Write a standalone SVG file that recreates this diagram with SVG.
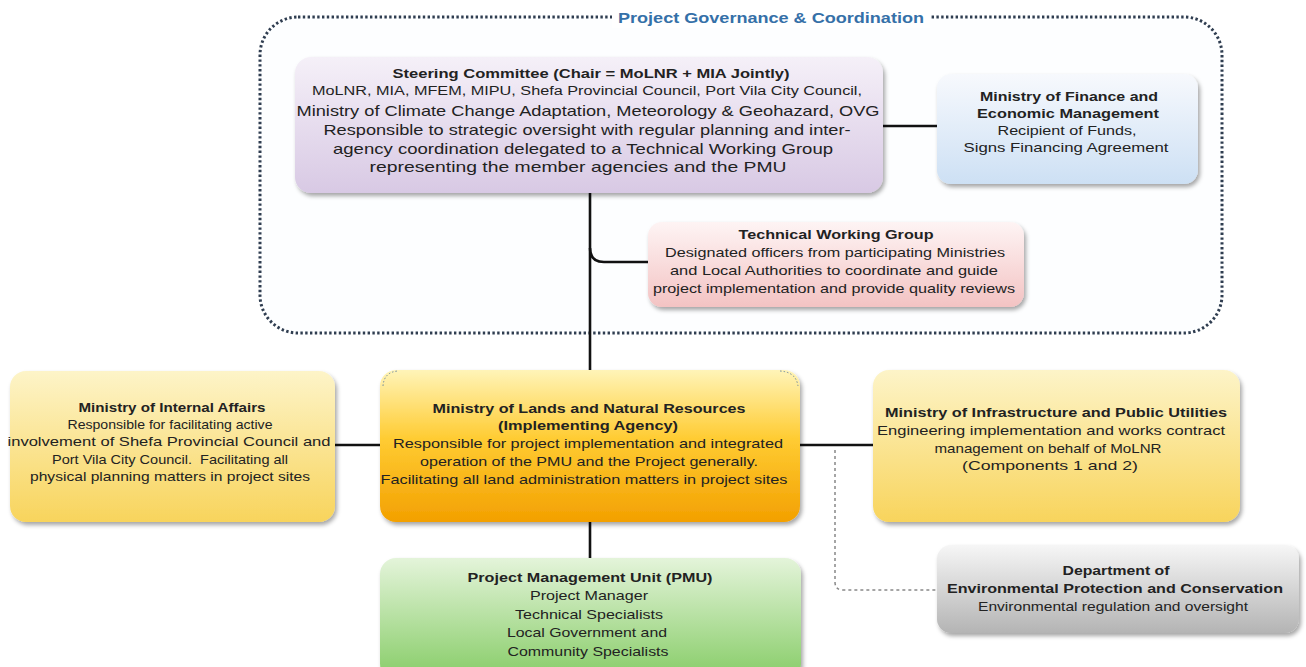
<svg xmlns="http://www.w3.org/2000/svg" width="1306" height="667" viewBox="0 0 1306 667">
<defs>
<style>
text{font-family:"Liberation Sans",Arial,sans-serif;fill:#222;text-anchor:middle;font-size:13px}
.b{font-weight:bold}
.c{stroke:#111;stroke-width:2.6;fill:none}
.box{filter:url(#sh)}
</style>
<filter id="sh" x="-10%" y="-10%" width="125%" height="130%">
<feDropShadow dx="2" dy="3" stdDeviation="2" flood-color="#000" flood-opacity="0.35"/>
</filter>
<linearGradient id="gP" x1="0" y1="0" x2="0" y2="1"><stop offset="0" stop-color="#f5f0f8"/><stop offset="1" stop-color="#d8c9e4"/></linearGradient>
<linearGradient id="gB" x1="0" y1="0" x2="0" y2="1"><stop offset="0" stop-color="#f7f9fd"/><stop offset="1" stop-color="#cde0f4"/></linearGradient>
<linearGradient id="gR" x1="0" y1="0" x2="0" y2="1"><stop offset="0" stop-color="#fef4f4"/><stop offset="1" stop-color="#f3c3c3"/></linearGradient>
<linearGradient id="gY" x1="0" y1="0" x2="0" y2="1"><stop offset="0" stop-color="#fdf4c8"/><stop offset="1" stop-color="#f8d45c"/></linearGradient>
<linearGradient id="gO" x1="0" y1="0" x2="0" y2="1"><stop offset="0" stop-color="#fff4b8"/><stop offset="0.45" stop-color="#ffcc33"/><stop offset="1" stop-color="#f3a000"/></linearGradient>
<linearGradient id="gG" x1="0" y1="0" x2="0" y2="1"><stop offset="0" stop-color="#e4f4da"/><stop offset="1" stop-color="#86cc66"/></linearGradient>
<linearGradient id="gS" x1="0" y1="0" x2="0" y2="1"><stop offset="0" stop-color="#f6f6f6"/><stop offset="1" stop-color="#b4b4b4"/></linearGradient>
</defs>
<rect width="1306" height="667" fill="#fff"/>

<g id="governance-container">
<rect x="260" y="17" width="962" height="316" rx="38" fill="#fdfeff" stroke="#2f3d50" stroke-width="3" stroke-dasharray="2.4 2.4"/>
<rect x="612" y="8" width="318" height="20" fill="#fff"/>
<text x="771" y="23" class="b" style="fill:#3570a8;font-size:14px" textLength="306" lengthAdjust="spacingAndGlyphs">Project Governance &amp; Coordination</text>
</g>

<g id="connectors">
<line class="c" x1="883" y1="126" x2="937" y2="126"/>
<line class="c" x1="590" y1="193" x2="590" y2="370"/>
<path class="c" d="M590,248 Q590,262 604,262 L648,262"/>
<line class="c" x1="335" y1="445" x2="380" y2="445"/>
<line class="c" x1="800" y1="445" x2="873" y2="445"/>
<line class="c" x1="590" y1="522" x2="590" y2="558"/>
<path d="M835,450 L835,582 Q835,590 843,590 L937,590" fill="none" stroke="#888" stroke-width="1.5" stroke-dasharray="3 3"/>
</g>

<g id="steering-committee">
<rect class="box" x="295" y="57" width="588" height="136" rx="16" fill="url(#gP)"/>
<text x="591" y="78" class="b" textLength="397" lengthAdjust="spacingAndGlyphs">Steering Committee (Chair = MoLNR + MIA Jointly)</text>
<text x="587" y="95" style="font-size:12.5px" textLength="550" lengthAdjust="spacingAndGlyphs">MoLNR, MIA, MFEM, MIPU, Shefa Provincial Council, Port Vila City Council,</text>
<text x="588" y="116" style="font-size:14.5px" textLength="583" lengthAdjust="spacingAndGlyphs">Ministry of Climate Change Adaptation, Meteorology &amp; Geohazard, OVG</text>
<text x="587" y="135" style="font-size:14.5px" textLength="527" lengthAdjust="spacingAndGlyphs">Responsible to strategic oversight with regular planning and inter-</text>
<text x="583" y="154" style="font-size:14.5px" textLength="500" lengthAdjust="spacingAndGlyphs">agency coordination delegated to a Technical Working Group</text>
<text x="578" y="172" style="font-size:14.5px" textLength="417" lengthAdjust="spacingAndGlyphs">representing the member agencies and the PMU</text>
</g>

<g id="finance">
<rect class="box" x="937" y="74" width="261" height="110" rx="14" fill="url(#gB)"/>
<text x="1069" y="101" class="b" textLength="178" lengthAdjust="spacingAndGlyphs">Ministry of Finance and</text>
<text x="1068" y="118" class="b" textLength="182" lengthAdjust="spacingAndGlyphs">Economic Management</text>
<text x="1067" y="135" textLength="139" lengthAdjust="spacingAndGlyphs">Recipient of Funds,</text>
<text x="1066" y="152" textLength="205" lengthAdjust="spacingAndGlyphs">Signs Financing Agreement</text>
</g>

<g id="twg">
<rect class="box" x="648" y="222" width="376" height="85" rx="14" fill="url(#gR)"/>
<text x="836" y="239" class="b" textLength="195" lengthAdjust="spacingAndGlyphs">Technical Working Group</text>
<text x="835" y="257" textLength="340" lengthAdjust="spacingAndGlyphs">Designated officers from participating Ministries</text>
<text x="834" y="275" textLength="328" lengthAdjust="spacingAndGlyphs">and Local Authorities to coordinate and guide</text>
<text x="834" y="293" textLength="362" lengthAdjust="spacingAndGlyphs">project implementation and provide quality reviews</text>
</g>

<g id="mia">
<rect class="box" x="10" y="371" width="325" height="151" rx="16" fill="url(#gY)"/>
<text x="172" y="412" class="b" textLength="187" lengthAdjust="spacingAndGlyphs">Ministry of Internal Affairs</text>
<text x="170" y="429" textLength="205" lengthAdjust="spacingAndGlyphs">Responsible for facilitating active</text>
<text x="169" y="446" textLength="323" lengthAdjust="spacingAndGlyphs">involvement of Shefa Provincial Council and</text>
<text x="170" y="464" textLength="236" lengthAdjust="spacingAndGlyphs">Port Vila City Council.&#160; Facilitating all</text>
<text x="170" y="481" textLength="280" lengthAdjust="spacingAndGlyphs">physical planning matters in project sites</text>
</g>

<g id="molnr">
<rect class="box" x="380" y="370" width="420" height="152" rx="16" fill="url(#gO)"/>
<path d="M383,386 Q384,372 398,371 M780,371 Q796,372 798,386" fill="none" stroke="#6f8aa0" stroke-width="1" stroke-dasharray="1.5 2"/>
<text x="589" y="413" class="b" textLength="313" lengthAdjust="spacingAndGlyphs">Ministry of Lands and Natural Resources</text>
<text x="588" y="430" class="b" textLength="180" lengthAdjust="spacingAndGlyphs">(Implementing Agency)</text>
<text x="588" y="448" textLength="390" lengthAdjust="spacingAndGlyphs">Responsible for project implementation and integrated</text>
<text x="589" y="466" textLength="338" lengthAdjust="spacingAndGlyphs">operation of the PMU and the Project generally.</text>
<text x="584" y="484" textLength="407" lengthAdjust="spacingAndGlyphs">Facilitating all land administration matters in project sites</text>
</g>

<g id="mipu">
<rect class="box" x="873" y="370" width="367" height="152" rx="16" fill="url(#gY)"/>
<text x="1056" y="417" class="b" textLength="342" lengthAdjust="spacingAndGlyphs">Ministry of Infrastructure and Public Utilities</text>
<text x="1051" y="435" textLength="348" lengthAdjust="spacingAndGlyphs">Engineering implementation and works contract</text>
<text x="1048" y="453" textLength="227" lengthAdjust="spacingAndGlyphs">management on behalf of MoLNR</text>
<text x="1050" y="470" textLength="176" lengthAdjust="spacingAndGlyphs">(Components 1 and 2)</text>
</g>

<g id="pmu">
<rect class="box" x="380" y="558" width="421" height="122" rx="16" fill="url(#gG)"/>
<text x="590" y="582" class="b" textLength="245" lengthAdjust="spacingAndGlyphs">Project Management Unit (PMU)</text>
<text x="589" y="600" textLength="118" lengthAdjust="spacingAndGlyphs">Project Manager</text>
<text x="589" y="619" textLength="148" lengthAdjust="spacingAndGlyphs">Technical Specialists</text>
<text x="587" y="637" textLength="160" lengthAdjust="spacingAndGlyphs">Local Government and</text>
<text x="588" y="656" textLength="161" lengthAdjust="spacingAndGlyphs">Community Specialists</text>
</g>

<g id="depc">
<rect class="box" x="937" y="545" width="362" height="88" rx="14" fill="url(#gS)"/>
<text x="1116" y="575" class="b" textLength="107" lengthAdjust="spacingAndGlyphs">Department of</text>
<text x="1115" y="593" class="b" textLength="336" lengthAdjust="spacingAndGlyphs">Environmental Protection and Conservation</text>
<text x="1113" y="611" textLength="270" lengthAdjust="spacingAndGlyphs">Environmental regulation and oversight</text>
</g>
</svg>
